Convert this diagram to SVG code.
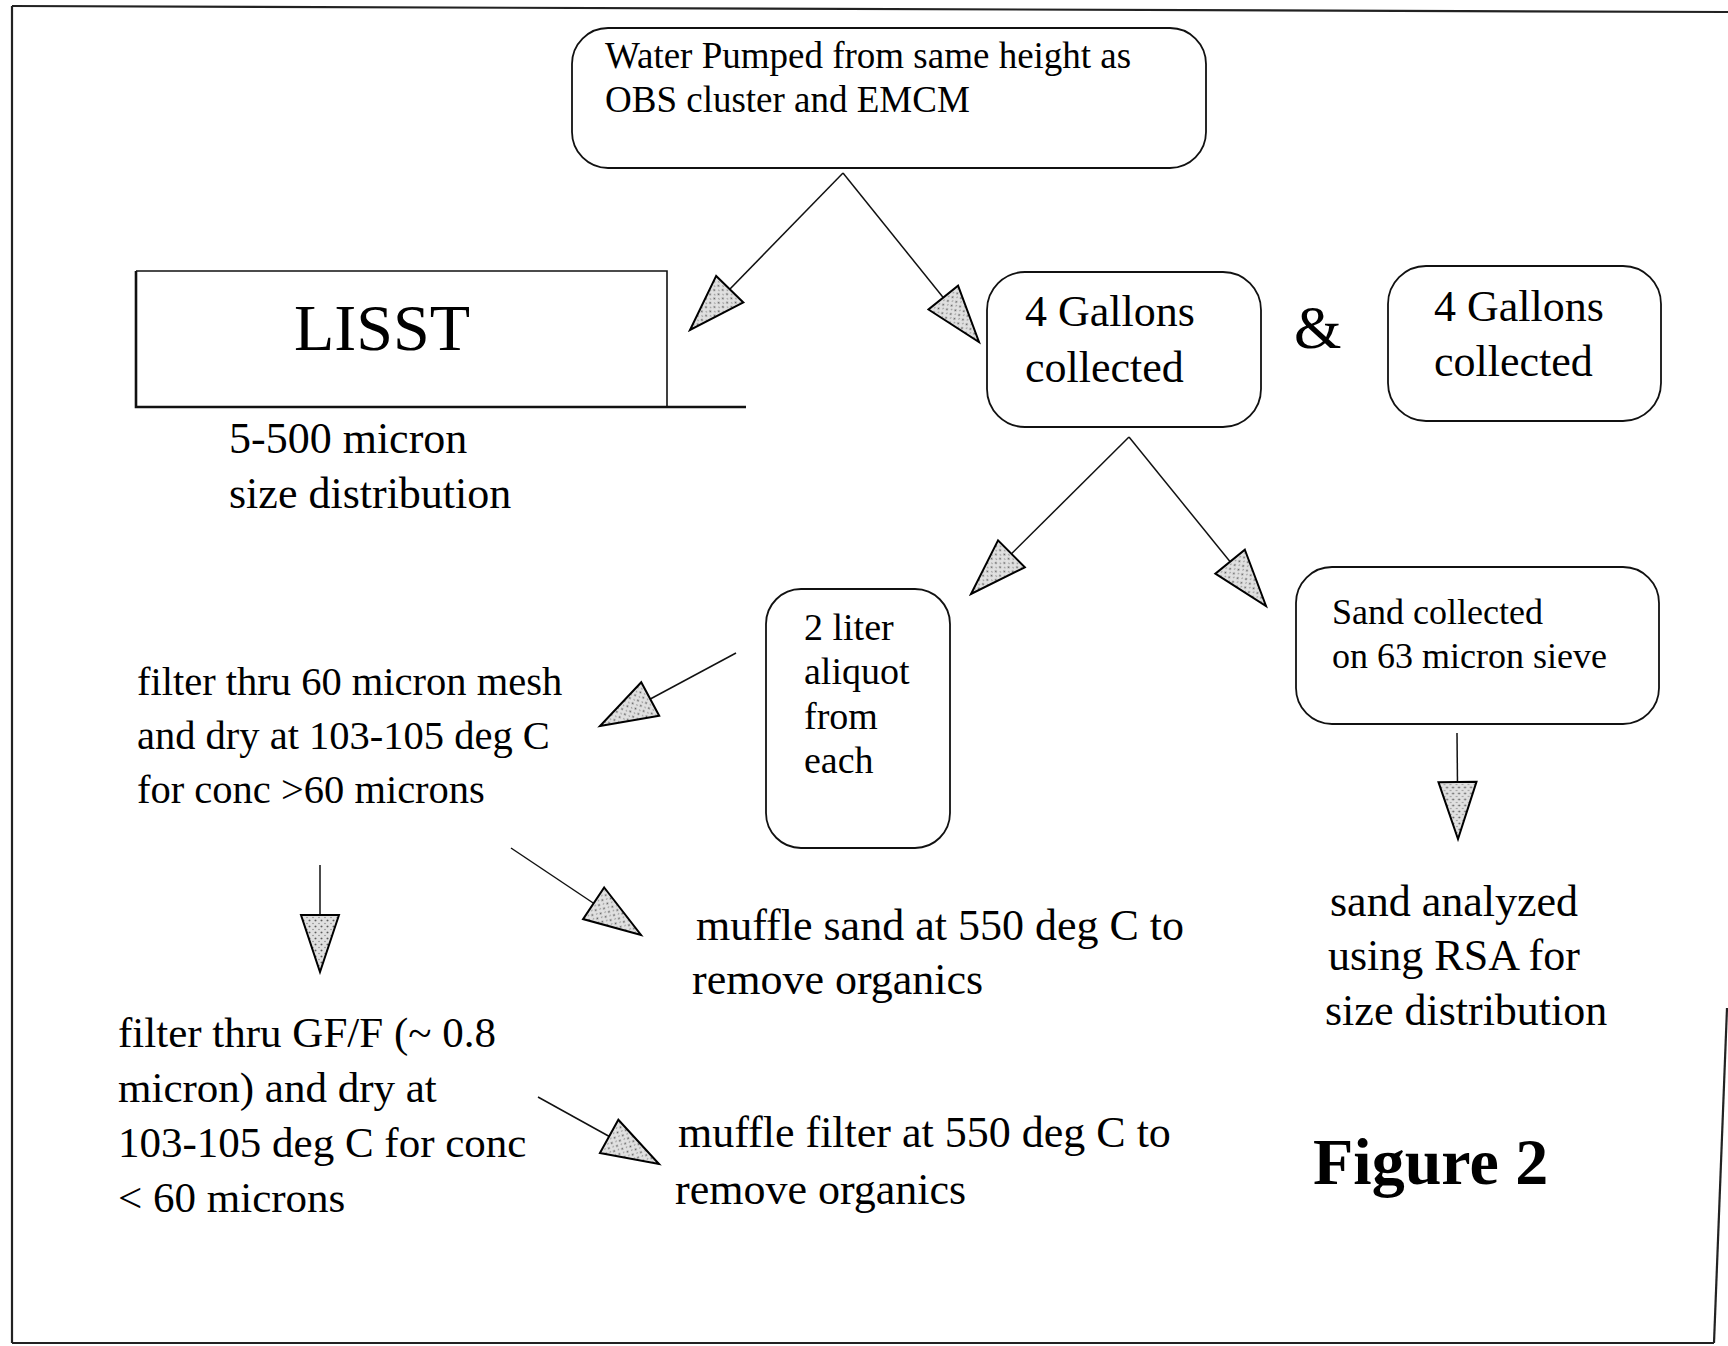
<svg xmlns="http://www.w3.org/2000/svg" width="1728" height="1346" viewBox="0 0 1728 1346">
<style>
  text { font-family: "Liberation Serif", "Times New Roman", serif; fill: #000; }
  .box { fill: none; stroke: #111; stroke-width: 1.8; }
  .conn { stroke: #111; stroke-width: 1.5; fill: none; marker-end: url(#head); }
  .frame { stroke: #222; stroke-width: 2.2; fill: none; }
  .t44 { font-size: 44px; }
  .t43 { font-size: 43px; }
  .t40 { font-size: 40.5px; }
  .t37 { font-size: 37px; }
  .t38 { font-size: 38px; }
  .t36 { font-size: 36px; }
</style>
<defs>
  <pattern id="stipple" patternUnits="userSpaceOnUse" width="6" height="6">
    <rect width="6" height="6" fill="#e0e0e0"/>
    <circle cx="1.5" cy="1.5" r="0.9" fill="#5a5a5a"/>
    <circle cx="4.5" cy="4" r="0.7" fill="#808080"/>
  </pattern>
  <marker id="head" markerUnits="userSpaceOnUse" markerWidth="62" markerHeight="42" viewBox="0 0 62 42" refX="59" refY="21" orient="auto">
    <path d="M2,2 L59,21 L2,40 Z" fill="url(#stipple)" stroke="#000" stroke-width="2"/>
  </marker>
</defs>
<rect width="1728" height="1346" fill="#fff"/>

<g id="frame">
  <path class="frame" d="M12,6 L1728,12"/>
  <path class="frame" d="M12,6 L12,1343"/>
  <path class="frame" d="M12,1343 L1714,1343"/>
  <path class="frame" d="M1714,1343 L1727,1008"/>
</g>

<g id="connectors">
  <path class="conn" d="M843,173 L690,330"/>
  <path class="conn" d="M843,173 L979,342"/>
  <path class="conn" d="M1129,437 L971,594"/>
  <path class="conn" d="M1129,437 L1266,606"/>
  <path class="conn" d="M1457,733 L1458,839"/>
  <path class="conn" d="M736,653 L600,726"/>
  <path class="conn" d="M320,865 L320,972"/>
  <path class="conn" d="M511,848 L641,935"/>
  <path class="conn" d="M538,1097 L659,1164"/>
</g>

<g id="node-water">
  <rect class="box" x="572" y="28" width="634" height="140" rx="36" ry="36"/>
  <text class="t37" x="605" y="68">Water Pumped from same height as</text>
  <text class="t37" x="605" y="112">OBS cluster and EMCM</text>
</g>

<g id="node-lisst">
  <path d="M136,271 L667,271 L667,407" fill="none" stroke="#111" stroke-width="1.6"/>
  <path d="M136,271 L136,407 L746,407" fill="none" stroke="#111" stroke-width="2.6"/>
  <text x="294" y="350" font-size="66">LISST</text>
  <text class="t44" x="229" y="453">5-500 micron</text>
  <text class="t44" x="229" y="508">size distribution</text>
</g>

<g id="node-gallons1">
  <rect class="box" x="987" y="272" width="274" height="155" rx="38" ry="38"/>
  <text class="t44" x="1025" y="326">4 Gallons</text>
  <text class="t44" x="1025" y="382">collected</text>
</g>

<g id="amp">
  <text x="1294" y="348" font-size="61">&amp;</text>
</g>

<g id="node-gallons2">
  <rect class="box" x="1388" y="266" width="273" height="155" rx="38" ry="38"/>
  <text class="t44" x="1434" y="321">4 Gallons</text>
  <text class="t44" x="1434" y="376">collected</text>
</g>

<g id="node-aliquot">
  <rect class="box" x="766" y="589" width="184" height="259" rx="35" ry="35"/>
  <text class="t38" x="804" y="640">2 liter</text>
  <text class="t38" x="804" y="684">aliquot</text>
  <text class="t38" x="804" y="729">from</text>
  <text class="t38" x="804" y="773">each</text>
</g>

<g id="node-sand">
  <rect class="box" x="1296" y="567" width="363" height="157" rx="36" ry="36"/>
  <text class="t36" x="1332" y="624">Sand collected</text>
  <text class="t36" x="1332" y="668">on 63 micron sieve</text>
</g>

<g id="node-filter60">
  <text class="t40" x="137" y="695">filter thru 60 micron mesh</text>
  <text class="t40" x="137" y="749">and dry at 103-105 deg C</text>
  <text class="t40" x="137" y="803">for conc &gt;60 microns</text>
</g>

<g id="node-mufflesand">
  <text class="t44" x="696" y="940">muffle sand at 550 deg C to</text>
  <text class="t44" x="692" y="994">remove organics</text>
</g>

<g id="node-filtergf">
  <text class="t43" x="118" y="1047">filter thru GF/F (~ 0.8</text>
  <text class="t43" x="118" y="1102">micron) and dry at</text>
  <text class="t43" x="118" y="1157">103-105 deg C for conc</text>
  <text class="t43" x="118" y="1212">&lt; 60 microns</text>
</g>

<g id="node-mufflefilter">
  <text class="t44" x="678" y="1147">muffle filter at 550 deg C to</text>
  <text class="t44" x="675" y="1204">remove organics</text>
</g>

<g id="node-sandanalyzed">
  <text class="t44" x="1330" y="916">sand analyzed</text>
  <text class="t44" x="1328" y="970">using RSA for</text>
  <text class="t44" x="1325" y="1025">size distribution</text>
</g>

<g id="caption">
  <text x="1313" y="1184" font-size="66" font-weight="bold">Figure 2</text>
</g>
</svg>
